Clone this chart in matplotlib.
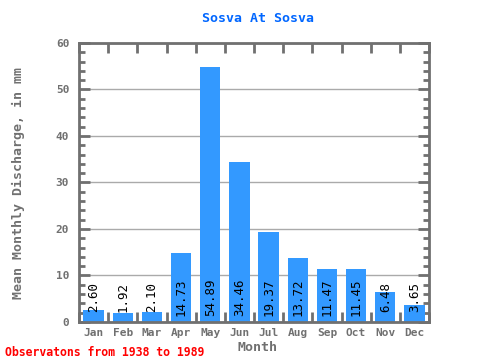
import matplotlib
matplotlib.use('Agg')
import matplotlib.pyplot as plt
import numpy as np

months = ['Jan', 'Feb', 'Mar', 'Apr', 'May', 'Jun', 'Jul', 'Aug', 'Sep', 'Oct', 'Nov', 'Dec']
discharge = [2.60, 1.92, 2.10, 14.73, 54.89, 34.46, 19.37, 13.72, 11.47, 11.45, 6.48, 3.65]
labels = ['2.60', '1.92', '2.10', '14.73', '54.89', '34.46', '19.37', '13.72', '11.47', '11.45', '6.48', '3.65']

mono = 'DejaVu Sans Mono'
grey = '#707070'

fig = plt.figure(figsize=(4.8, 3.6), dpi=100)
ax = fig.add_axes([0.1646, 0.1056, 0.7292, 0.775])

x = np.arange(len(months))
ax.bar(x, discharge, width=0.7, color='#3399ff', zorder=2)
for xi, lab in zip(x, labels):
    ax.text(xi, 5.4, lab, rotation=90, ha='center', va='center',
            family=mono, fontsize=9, color='black', zorder=3)

ax.set_xlim(-0.5, 11.5)
ax.set_ylim(0, 60)
ax.set_yticks(np.arange(0, 61, 10))
ax.set_yticks(np.arange(0, 61, 2), minor=True)
ax.set_xticks(x)
ax.set_xticklabels(months)
ax.set_xticks(np.arange(-0.5, 12, 1), minor=True)
ax.yaxis.grid(True, which='major', color='#aaaaaa', linewidth=1, zorder=0)

ax.tick_params(axis='x', which='major', length=0, pad=4, labelsize=8, labelcolor=grey)
ax.tick_params(axis='x', which='minor', direction='in', length=7, width=2,
               color=grey, top=True, bottom=True)
ax.tick_params(axis='y', which='major', direction='in', length=8, width=2,
               color=grey, left=True, right=True, labelsize=8, labelcolor=grey, pad=7)
ax.tick_params(axis='y', which='minor', direction='in', length=4, width=2,
               color=grey, left=True, right=True)
for lab in ax.get_xticklabels() + ax.get_yticklabels():
    lab.set_family(mono)
    lab.set_fontweight('bold')

for s in ax.spines.values():
    s.set_color(grey)
    s.set_linewidth(2)

fig.text(0.5375, 0.95, 'Sosva At Sosva', ha='center', va='center', family=mono,
         fontweight='bold', fontsize=9.5, color='#0066ff')
fig.text(0.0375, 0.4917, 'Mean Monthly Discharge, in mm', rotation=90, ha='center',
         va='center', family=mono, fontweight='bold', fontsize=9.5, color=grey)
fig.text(0.5375, 0.036, 'Month', ha='center', va='center', family=mono,
         fontweight='bold', fontsize=9.5, color=grey)
fig.text(0.01, 0.022, 'Observatons from 1938 to 1989', ha='left', va='center',
         family=mono, fontweight='bold', fontsize=8.3, color='#ff0000')

fig.savefig('out.png', dpi=100)
